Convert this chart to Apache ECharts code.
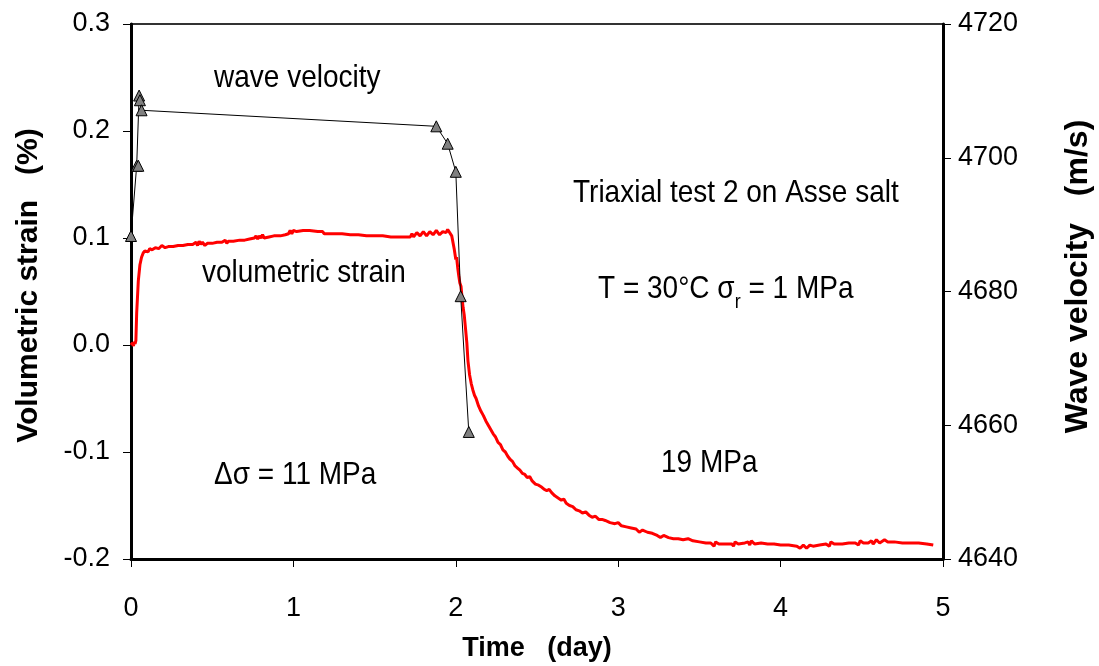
<!DOCTYPE html>
<html>
<head>
<meta charset="utf-8">
<script src="https://cdn.jsdelivr.net/npm/echarts@6/dist/echarts.min.js"></script>
<style>html,body{margin:0;padding:0;background:#fff}#c{width:1099px;height:666px}</style>
</head>
<body>
<div id="c"></div>
<script>
// Wave velocity (right axis, m/s)
const waveTime = [0, 0.035, 0.045, 0.05, 0.055, 0.065, 1.88, 1.95, 2.0, 2.03, 2.08];
const waveVel  = [4688.3, 4698.8, 4698.8, 4709.3, 4708.6, 4707.1, 4704.7, 4702.1, 4697.9, 4679.3, 4659.0];

// Volumetric strain (left axis, %)
const strainTime = [0.000,0.010,0.015,0.020,0.025,0.030,0.035,0.045,0.055,0.065,0.075,0.085,0.095,0.105,0.115,0.130,0.150,0.170,0.190,0.210,0.230,0.260,0.290,0.320,0.350,0.380,0.400,0.410,0.420,0.430,0.440,0.455,0.470,0.500,0.530,0.560,0.580,0.590,0.600,0.630,0.670,0.700,0.730,0.760,0.770,0.780,0.790,0.800,0.810,0.820,0.850,0.880,0.920,0.950,0.970,0.980,0.990,1.000,1.020,1.060,1.100,1.150,1.180,1.190,1.250,1.300,1.350,1.400,1.450,1.500,1.550,1.600,1.650,1.700,1.720,1.730,1.740,1.760,1.780,1.800,1.820,1.840,1.860,1.880,1.900,1.920,1.940,1.950,1.960,1.975,1.990,2.000,2.005,2.012,2.018,2.025,2.032,2.038,2.045,2.052,2.060,2.068,2.075,2.085,2.095,2.105,2.115,2.125,2.140,2.155,2.170,2.185,2.200,2.215,2.230,2.245,2.260,2.275,2.290,2.305,2.320,2.335,2.350,2.365,2.380,2.395,2.410,2.425,2.440,2.455,2.470,2.490,2.510,2.530,2.545,2.560,2.575,2.590,2.610,2.630,2.650,2.665,2.680,2.700,2.720,2.740,2.760,2.780,2.800,2.820,2.840,2.860,2.880,2.900,2.920,2.950,2.980,3.000,3.020,3.050,3.080,3.110,3.130,3.150,3.180,3.210,3.240,3.260,3.280,3.310,3.340,3.370,3.400,3.430,3.460,3.500,3.540,3.570,3.590,3.600,3.620,3.660,3.700,3.710,3.720,3.740,3.780,3.800,3.810,3.820,3.840,3.880,3.920,3.960,4.000,4.050,4.100,4.120,4.140,4.160,4.180,4.200,4.240,4.280,4.300,4.310,4.330,4.380,4.420,4.460,4.480,4.490,4.510,4.540,4.560,4.570,4.590,4.610,4.640,4.660,4.700,4.750,4.800,4.850,4.900,4.940];
const strainVal = [0.000,0.002,-0.001,0.003,0.001,0.004,0.030,0.060,0.075,0.082,0.086,0.088,0.089,0.087,0.090,0.089,0.091,0.090,0.093,0.091,0.092,0.092,0.093,0.093,0.094,0.094,0.096,0.093,0.097,0.094,0.096,0.093,0.095,0.095,0.096,0.096,0.098,0.095,0.097,0.097,0.098,0.098,0.099,0.100,0.102,0.099,0.102,0.100,0.103,0.100,0.101,0.102,0.102,0.103,0.104,0.107,0.104,0.107,0.106,0.107,0.107,0.106,0.106,0.104,0.104,0.104,0.103,0.103,0.102,0.102,0.102,0.101,0.101,0.101,0.101,0.104,0.101,0.105,0.102,0.106,0.102,0.106,0.103,0.107,0.103,0.106,0.105,0.108,0.107,0.102,0.090,0.080,0.082,0.072,0.065,0.058,0.055,0.045,0.035,0.028,0.015,0.002,-0.015,-0.028,-0.036,-0.042,-0.047,-0.050,-0.057,-0.062,-0.066,-0.071,-0.075,-0.079,-0.083,-0.086,-0.091,-0.093,-0.098,-0.100,-0.104,-0.107,-0.109,-0.113,-0.115,-0.117,-0.120,-0.121,-0.124,-0.123,-0.127,-0.130,-0.131,-0.133,-0.135,-0.136,-0.135,-0.138,-0.141,-0.143,-0.145,-0.144,-0.148,-0.150,-0.151,-0.154,-0.155,-0.157,-0.156,-0.159,-0.161,-0.160,-0.163,-0.163,-0.164,-0.166,-0.167,-0.166,-0.169,-0.170,-0.171,-0.172,-0.175,-0.173,-0.175,-0.176,-0.178,-0.180,-0.178,-0.180,-0.181,-0.181,-0.182,-0.181,-0.183,-0.184,-0.185,-0.185,-0.188,-0.184,-0.186,-0.186,-0.186,-0.188,-0.184,-0.186,-0.185,-0.184,-0.187,-0.183,-0.186,-0.185,-0.186,-0.186,-0.187,-0.187,-0.188,-0.190,-0.187,-0.190,-0.187,-0.188,-0.187,-0.186,-0.188,-0.184,-0.186,-0.186,-0.185,-0.185,-0.187,-0.183,-0.185,-0.185,-0.183,-0.186,-0.182,-0.185,-0.182,-0.184,-0.184,-0.185,-0.185,-0.185,-0.186,-0.187];

const xTicks = [0, 1, 2, 3, 4, 5];
const leftTicks = [-0.2, -0.1, 0.0, 0.1, 0.2, 0.3];
const rightTicks = [4640, 4660, 4680, 4700, 4720];

const FONT = '"Liberation Sans", Arial, sans-serif';
const chart = echarts.init(document.getElementById('c'), null, {renderer: 'canvas'});

const axisLabelStyle = {color: '#000', fontFamily: FONT, fontSize: 27};
const nameStyle = {color: '#000', fontFamily: FONT, fontSize: 27, fontWeight: 'bold'};

function note(x, y, text, extra) {
  return {
    type: 'text', x: x, y: y, scaleY: 1.12,
    style: Object.assign({text: text, fontFamily: FONT, fontSize: 28, fill: '#000', align: 'left', verticalAlign: 'middle'}, extra || {})
  };
}

chart.setOption({
  animation: false,
  backgroundColor: '#fff',
  grid: {left: 131, right: 156, top: 24, bottom: 107, containLabel: false, outerBoundsMode: 'none',
         show: true, borderColor: '#333', borderWidth: 2, backgroundColor: 'transparent'},
  xAxis: {
    type: 'value', min: xTicks[0], max: xTicks[xTicks.length - 1], interval: 1,
    name: 'Time   (day)', nameLocation: 'middle', nameGap: 76, nameTextStyle: nameStyle,
    axisLine: {show: true, onZero: false, lineStyle: {color: '#000', width: 3}},
    axisTick: {show: true, inside: false, length: 8, lineStyle: {color: '#000', width: 1}},
    axisLabel: Object.assign({margin: 36}, axisLabelStyle),
    splitLine: {show: false}
  },
  yAxis: [
    {
      type: 'value', min: leftTicks[0], max: leftTicks[leftTicks.length - 1], interval: 0.1, position: 'left',
      name: 'Volumetric strain   (%)', nameLocation: 'middle', nameGap: 87, nameRotate: 90,
      nameTextStyle: {color: '#000', fontFamily: FONT, fontSize: 30, fontWeight: 'bold', padding: [0, 0, 0, 12]},
      axisLine: {show: true, onZero: false, lineStyle: {color: '#000', width: 3}},
      axisTick: {show: true, length: 8, lineStyle: {color: '#000', width: 1}},
      axisLabel: Object.assign({margin: 21, formatter: v => v.toFixed(1)}, axisLabelStyle),
      splitLine: {show: false}
    },
    {
      type: 'value', min: rightTicks[0], max: rightTicks[rightTicks.length - 1], interval: 20, position: 'right',
      name: 'Wave velocity   (m/s)', nameLocation: 'middle', nameGap: 119, nameRotate: 90,
      nameTextStyle: {color: '#000', fontFamily: FONT, fontSize: 32, fontWeight: 'bold', padding: [0, 0, 0, 30]},
      axisLine: {show: true, onZero: false, lineStyle: {color: '#000', width: 3}},
      axisTick: {show: true, length: 8, lineStyle: {color: '#000', width: 1}},
      axisLabel: Object.assign({margin: 15, formatter: v => String(v)}, axisLabelStyle),
      splitLine: {show: false}
    }
  ],
  series: [
    {
      name: 'volumetric strain', type: 'line', yAxisIndex: 0,
      data: strainTime.map((t, i) => [t, strainVal[i]]),
      showSymbol: false, symbol: 'none',
      lineStyle: {color: '#ff0000', width: 3}, z: 2
    },
    {
      name: 'wave velocity', type: 'line', yAxisIndex: 1,
      data: waveTime.map((t, i) => [t, waveVel[i]]),
      symbol: 'triangle', symbolSize: 11, showSymbol: true,
      itemStyle: {color: '#808080', borderColor: '#000', borderWidth: 1},
      lineStyle: {color: '#000', width: 1}, z: 3
    }
  ],
  graphic: [
    note(214, 78, 'wave velocity'),
    note(202, 273, 'volumetric strain'),
    note(573, 193, 'Triaxial test 2 on Asse salt'),
    note(598, 289, '{a|T = 30°C σ}{s|r}{a| = 1 MPa}', {
      rich: {a: {fontFamily: FONT, fontSize: 28, fill: '#000', verticalAlign: 'bottom'},
             s: {fontFamily: FONT, fontSize: 18, fill: '#000', verticalAlign: 'bottom', padding: [0, 0, -7, 0]}}
    }),
    note(214, 475, 'Δσ = 11 MPa'),
    note(661, 463, '19 MPa')
  ]
});
</script>
</body>
</html>
